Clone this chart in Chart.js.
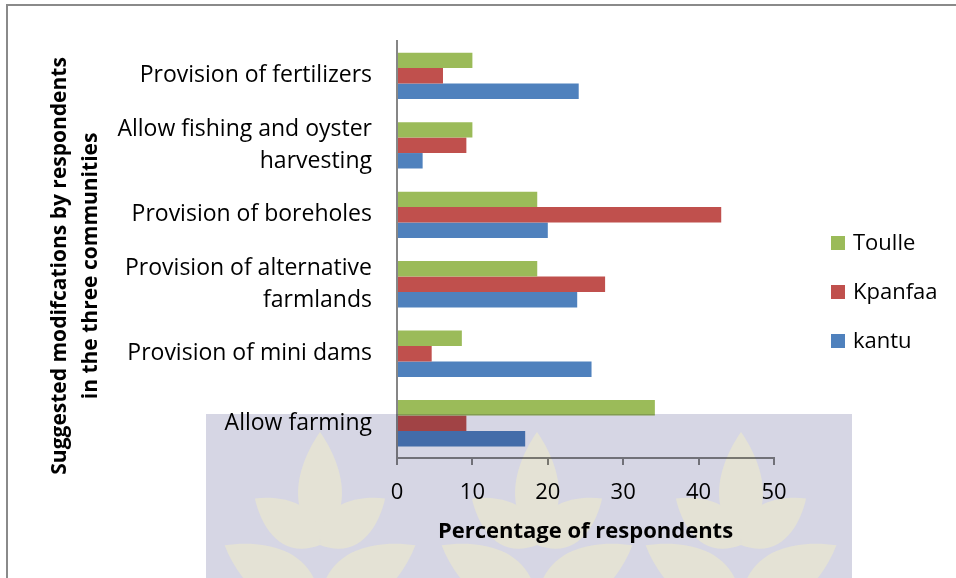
<!DOCTYPE html>
<html>
<head>
<meta charset="utf-8">
<script src="https://cdn.jsdelivr.net/npm/chart.js@4"></script>
<style>
  html, body { margin: 0; padding: 0; background: #fff; }
</style>
</head>
<body>
<canvas id="chart" width="956" height="578"></canvas>
<script>
// ---------------- DATA ----------------
const categories = [
  "Provision of fertilizers",
  ["Allow fishing and oyster", "harvesting"],
  "Provision of boreholes",
  ["Provision of alternative", "farmlands"],
  "Provision of mini dams",
  "Allow farming"
];
const seriesNames = ["Toulle", "Kpanfaa", "kantu"];
const toulle  = [10, 10, 18.6, 18.6, 8.6, 34.2];
const kpanfaa = [6.1, 9.2, 43.0, 27.6, 4.6, 9.2];
const kantu   = [24.1, 3.4, 20.0, 23.9, 25.8, 17.0];
const xTicks  = [0, 10, 20, 30, 40, 50];

const colors = ["#9bbb59", "#c0504d", "#4f81bd"];
const FONT = "'Open Sans'";

// ---------------- PLUGINS ----------------
// white page + grey frame lines at top / left
const framePlugin = {
  id: "frame",
  beforeDraw(chart) {
    const ctx = chart.ctx;
    ctx.save();
    ctx.fillStyle = "#fff";
    ctx.fillRect(0, 0, chart.width, chart.height);
    ctx.strokeStyle = "#8a8a8a";
    ctx.lineWidth = 2;
    ctx.beginPath();
    ctx.moveTo(7, chart.height);
    ctx.lineTo(7, 5);
    ctx.lineTo(chart.width, 5);
    ctx.stroke();
    ctx.restore();
  }
};

// legend on the right, drawn from dataset labels
const legendPlugin = {
  id: "sideLegend",
  afterDraw(chart) {
    const ctx = chart.ctx;
    const x = chart.chartArea.right + 57;
    ctx.save();
    ctx.font = "22px " + FONT;
    ctx.textBaseline = "middle";
    chart.data.datasets.forEach((ds, i) => {
      const y = 243 + i * 49;
      ctx.fillStyle = ds.backgroundColor;
      ctx.fillRect(x, y - 7, 14, 14);
      ctx.fillStyle = "#000";
      ctx.fillText(ds.label, x + 22, y + 1);
    });
    ctx.restore();
  }
};

// faint watermark laid over the lower part of the page
function leaf(c, x, y, len, wid, ang) {
  c.save();
  c.translate(x, y);
  c.rotate(ang);
  c.beginPath();
  c.moveTo(0, 0);
  c.bezierCurveTo(wid, -len * 0.3, wid * 0.5, -len * 0.75, 0, -len);
  c.bezierCurveTo(-wid * 0.5, -len * 0.75, -wid, -len * 0.3, 0, 0);
  c.fill();
  c.restore();
}
const watermarkPlugin = {
  id: "watermark",
  afterDraw(chart) {
    const ctx = chart.ctx;
    const off = document.createElement("canvas");
    off.width = chart.width;
    off.height = chart.height;
    const c = off.getContext("2d");
    c.fillStyle = "#fff";
    c.fillRect(0, 0, off.width, off.height);
    c.fillStyle = "#d6d6e4";
    c.fillRect(206, 414, 646, 164);
    c.fillStyle = "#e4e2d5";
    [320, 537, 741].forEach(cx => {
      leaf(c, cx, 540, 108, 38, 0);
      leaf(c, cx, 545, 80, 36, -0.95);
      leaf(c, cx, 545, 80, 36, 0.95);
      leaf(c, cx, 600, 110, 44, -1.05);
      leaf(c, cx, 600, 110, 44, 1.05);
    });
    ctx.save();
    ctx.globalCompositeOperation = "multiply";
    ctx.drawImage(off, 0, 0);
    ctx.restore();
  }
};

// ---------------- CHART ----------------
new Chart(document.getElementById("chart"), {
  type: "bar",
  data: {
    labels: categories,
    datasets: [
      { label: seriesNames[0], data: toulle,  backgroundColor: colors[0] },
      { label: seriesNames[1], data: kpanfaa, backgroundColor: colors[1] },
      { label: seriesNames[2], data: kantu,   backgroundColor: colors[2] }
    ]
  },
  options: {
    indexAxis: "y",
    responsive: false,
    animation: false,
    categoryPercentage: 0.667,
    barPercentage: 1,
    layout: { padding: { top: 34, right: 182, bottom: 0, left: 0 } },
    plugins: {
      legend: { display: false },
      tooltip: { enabled: false }
    },
    scales: {
      x: {
        min: 0,
        max: 50,
        afterBuildTicks: s => { s.ticks = xTicks.map(v => ({ value: v })); },
        ticks: { font: { family: FONT, size: 22 }, color: "#000", padding: 15 },
        grid: { display: true, drawOnChartArea: false, drawTicks: true, tickLength: 7, color: "#868686", lineWidth: 2 },
        border: { display: true, color: "#868686", width: 2 },
        title: {
          display: true,
          text: "Percentage of respondents",
          font: { family: FONT, size: 22, weight: "bold" },
          color: "#000",
          padding: { top: 0, bottom: 33 }
        },
        afterFit(s) { s.height = 120; }
      },
      y: {
        grid: { display: false, drawTicks: false },
        border: { display: true, color: "#868686", width: 2 },
        ticks: { font: { family: FONT, size: 23, lineHeight: 1.4 }, color: "#000", padding: 25 },
        title: {
          display: true,
          text: ["Suggested modifcations by respondents      ", "in the three communities      "],
          font: { family: FONT, size: 21, weight: "bold", lineHeight: 1.45 },
          color: "#000",
          padding: { top: 45, bottom: 0 }
        },
        afterFit(s) { s.width = 397; }
      }
    }
  },
  plugins: [framePlugin, legendPlugin, watermarkPlugin]
});
</script>
</body>
</html>
